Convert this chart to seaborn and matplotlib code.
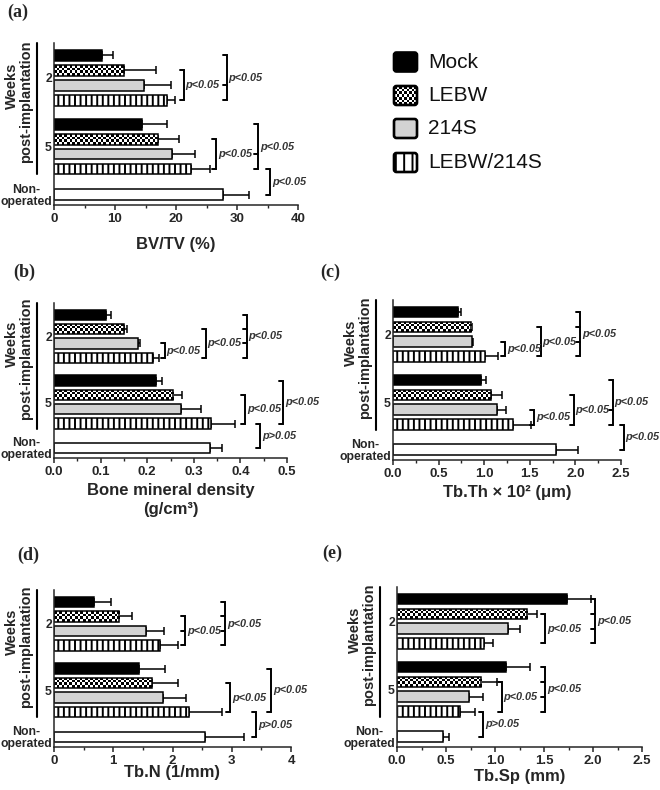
import numpy as np
import pandas as pd
import matplotlib
matplotlib.use('Agg')
import matplotlib.pyplot as plt
import seaborn as sns
from matplotlib.ticker import MultipleLocator
from matplotlib.patches import FancyBboxPatch
from matplotlib.transforms import blended_transform_factory

# bar order in every panel: week 2 (4 groups), week 5 (4 groups), non-operated
groups = ['Mock', 'LEBW', '214S', 'LEBW/214S']
colors = ['black', 'white', '#d3d3d3', 'white']
weeks = ['2', '5']
non_label = 'Non-operated'

bvtv_mean = [7.9, 11.4, 14.8, 18.5, 14.5, 17.0, 19.4, 22.4, 27.7]
bvtv_err = [1.8, 5.3, 4.3, 1.4, 4.0, 3.5, 3.7, 3.1, 4.2]
bmd_mean = [0.111, 0.150, 0.181, 0.212, 0.218, 0.256, 0.273, 0.337, 0.334]
bmd_err = [0.011, 0.006, 0.003, 0.014, 0.013, 0.018, 0.043, 0.051, 0.027]
tbth_mean = [0.71, 0.86, 0.87, 1.01, 0.96, 1.07, 1.14, 1.32, 1.79]
tbth_err = [0.04, 0.01, 0.01, 0.14, 0.06, 0.12, 0.10, 0.19, 0.24]
tbn_mean = [0.68, 1.10, 1.56, 1.79, 1.44, 1.65, 1.84, 2.28, 2.55]
tbn_err = [0.28, 0.22, 0.29, 0.30, 0.44, 0.44, 0.39, 0.55, 0.66]
tbsp_mean = [1.73, 1.33, 1.13, 0.89, 1.11, 0.86, 0.73, 0.64, 0.47]
tbsp_err = [0.25, 0.10, 0.13, 0.09, 0.25, 0.16, 0.15, 0.16, 0.06]

# significance brackets: (bar indices spanned, x position, text)
bvtv_brackets = [([1, 3], 21.3, 'p<0.05'), ([0, 2, 3], 28.3, 'p<0.05'),
                 ([5, 7], 26.6, 'p<0.05'), ([4, 6, 7], 33.5, 'p<0.05'),
                 ([7, 8], 35.4, 'p<0.05')]
bmd_brackets = [([2, 3], 0.238, 'p<0.05'), ([1, 3], 0.326, 'p<0.05'),
                ([0, 1, 2, 3], 0.414, 'p<0.05'), ([5, 7], 0.41, 'p<0.05'),
                ([4, 7], 0.492, 'p<0.05'), ([7, 8], 0.442, 'p>0.05')]
tbth_brackets = [([2, 3], 1.23, 'p<0.05'), ([1, 3], 1.62, 'p<0.05'),
                 ([0, 1, 2, 3], 2.05, 'p<0.05'), ([6, 7], 1.55, 'p<0.05'),
                 ([5, 7], 1.98, 'p<0.05'), ([4, 6, 7], 2.41, 'p<0.05'),
                 ([7, 8], 2.53, 'p<0.05')]
tbn_brackets = [([1, 2, 3], 2.21, 'p<0.05'), ([0, 1, 2, 3], 2.885, 'p<0.05'),
                ([5, 7], 2.97, 'p<0.05'), ([4, 7], 3.67, 'p<0.05'),
                ([7, 8], 3.41, 'p>0.05')]
tbsp_brackets = [([1, 3], 1.51, 'p<0.05'), ([0, 1, 2, 3], 2.02, 'p<0.05'),
                 ([5, 7], 1.07, 'p<0.05'), ([4, 5, 6, 7], 1.51, 'p<0.05'),
                 ([7, 8], 0.88, 'p>0.05')]

sns.set_style('ticks')
plt.rcParams['font.family'] = ['Liberation Sans', 'DejaVu Sans']
plt.rcParams['font.weight'] = 'bold'
plt.rcParams['hatch.linewidth'] = 1.4
plt.rcParams['axes.linewidth'] = 1.1

W, H = 660, 790
fig = plt.figure(figsize=(W / 100, H / 100), dpi=100)

# layout of the bar slots (gap between week groups)
bar_pos = np.array([g * 4.6 + i for g in range(2) for i in range(4)] + [9.3])
bar_group = groups * 2 + [non_label]
palette = dict(zip(groups, colors))
palette[non_label] = 'white'
YLIM = (10.0, -0.82)


def add_checker(ax, x0, x1, y0, y1, clip, z, cell=2.6):
    a = ax.transData.transform((x0, y0))
    b = ax.transData.transform((x1, y1))
    nx = max(1, int(round(abs(b[0] - a[0]) / cell)))
    ny = max(1, int(round(abs(b[1] - a[1]) / cell)))
    board = np.indices((ny, nx)).sum(axis=0) % 2
    im = ax.imshow(board, cmap='gray', vmin=0, vmax=1, extent=(x0, x1, y1, y0),
                   interpolation='nearest', aspect='auto', zorder=z)
    im.set_clip_path(clip)


def draw_panel(rect, means, errs, brackets, xmax, major, xlabel, drop, tag, tag_xy):
    l, t, r, b = rect
    ax = fig.add_axes([l / W, 1 - b / H, (r - l) / W, (b - t) / H])
    w_px, h_px = r - l, b - t
    df = pd.DataFrame({'value': means, 'err': errs, 'pos': bar_pos, 'group': bar_group})
    sns.barplot(data=df, x='value', y='pos', hue='group', hue_order=groups + [non_label],
                palette=palette, orient='h', native_scale=True, dodge=False, width=0.72,
                saturation=1, edgecolor='black', linewidth=1.1, errorbar=None,
                legend=False, ax=ax)
    ax.set_xlim(0, xmax)
    ax.set_ylim(*YLIM)
    ax.errorbar(df['value'], df['pos'], xerr=[np.zeros(len(df)), df['err']], fmt='none',
                ecolor='black', elinewidth=1.1, capsize=2.6, capthick=1.1, zorder=0.5)

    for p in list(ax.patches):
        yc = p.get_y() + p.get_height() / 2
        g = bar_group[int(np.argmin(np.abs(bar_pos - yc)))]
        if g == 'LEBW/214S':
            p.set_hatch('|||')
        elif g == 'LEBW':
            p.set_facecolor('none')
            p.set_zorder(2)
            add_checker(ax, p.get_x(), p.get_x() + p.get_width(),
                        p.get_y(), p.get_y() + p.get_height(), p, 1.5)
    ax.set_xlim(0, xmax)
    ax.set_ylim(*YLIM)

    sns.despine(ax=ax)
    ax.xaxis.set_major_locator(MultipleLocator(major))
    ax.xaxis.set_minor_locator(MultipleLocator(major / 2))
    ax.tick_params(axis='x', which='major', direction='out', length=3.5, width=1.1,
                   labelsize=9.5, pad=2)
    ax.tick_params(axis='x', which='minor', direction='out', length=2, width=1.0)
    ax.set_yticks([1.5, 6.1, 9.3], weeks + ['Non-\noperated'])
    ax.tick_params(axis='y', length=0, labelsize=8.8, pad=1.5)
    for tl in ax.get_yticklabels():
        tl.set_multialignment('center')
        tl.set_linespacing(1.0)
    ax.set_ylabel('')
    ax.set_xlabel(xlabel, fontsize=12, fontweight='bold', linespacing=1.3)
    ax.xaxis.label.set_va('center')
    ax.xaxis.set_label_coords(0.5, -drop / h_px)

    # group line and rotated label
    tr = blended_transform_factory(ax.transAxes, ax.transData)
    ax.plot([-17 / w_px] * 2, [YLIM[1], 7.95], color='black', lw=1.5,
            transform=tr, clip_on=False)
    ax.text(-42 / w_px, 2.05, 'Weeks', rotation=90, ha='center', va='center',
            fontsize=10.5, transform=tr)
    ax.text(-28 / w_px, 3.1, 'post-implantation', rotation=90, ha='center',
            va='center', fontsize=10.5, transform=tr)

    tick = 4 / w_px * xmax
    for levels, xb, label in brackets:
        ys = [bar_pos[i] for i in levels]
        top, bot = min(ys), max(ys)
        ax.plot([xb - tick, xb, xb, xb - tick], [top, top, bot, bot], color='black',
                lw=1.4, clip_on=False, solid_joinstyle='miter')
        for y in ys[1:-1]:
            ax.plot([xb - tick, xb], [y, y], color='black', lw=1.4, clip_on=False)
        ax.text(xb + tick * 0.45, (top + bot) / 2, label, ha='left', va='center',
                fontsize=7.8, style='italic', color='#333333', clip_on=False)

    fig.text(tag_xy[0] / W, 1 - tag_xy[1] / H, tag, ha='left', va='center',
             fontsize=13, fontweight='bold', family=['Liberation Serif', 'DejaVu Serif'])
    return ax


draw_panel((54, 43, 298, 205), bvtv_mean, bvtv_err, bvtv_brackets, 40, 10,
           'BV/TV (%)', 39, '(a)', (7, 12))
draw_panel((54, 303, 287, 458), bmd_mean, bmd_err, bmd_brackets, 0.5, 0.1,
           'Bone mineral density\n(g/cm³)', 42, '(b)', (13, 272))
draw_panel((393, 300, 621, 460), tbth_mean, tbth_err, tbth_brackets, 2.5, 0.5,
           'Tb.Th × 10² (μm)', 32, '(c)', (320, 272))
draw_panel((54, 590, 291, 747), tbn_mean, tbn_err, tbn_brackets, 4, 1,
           'Tb.N (1/mm)', 26, '(d)', (17, 555))
draw_panel((397, 587, 642, 747), tbsp_mean, tbsp_err, tbsp_brackets, 2.5, 0.5,
           'Tb.Sp (mm)', 29, '(e)', (322, 553))

# legend
lg = fig.add_axes([380 / W, 1 - 185 / H, 240 / W, 145 / H])
lg.set_xlim(380, 620)
lg.set_ylim(185, 40)
lg.axis('off')
rows = [62, 95.5, 128.5, 162.5]
for name, col, yc in zip(groups, colors, rows):
    box = FancyBboxPatch((394, yc - 9.5), 23, 19, boxstyle='round,pad=0,rounding_size=2.5',
                         fc=col, ec='black', lw=1.9, zorder=2)
    lg.add_patch(box)
    if name == 'LEBW':
        box.set_facecolor('none')
        add_checker(lg, 394, 417, yc - 9.5, yc + 9.5, box, 1.5)
    if name == 'LEBW/214S':
        box.set_hatch('||')
    lg.text(428, yc, name, ha='left', va='center', fontsize=15, fontweight='normal',
            color='#111111')
lg.set_xlim(380, 620)
lg.set_ylim(185, 40)

fig.savefig('out.png', dpi=100)
